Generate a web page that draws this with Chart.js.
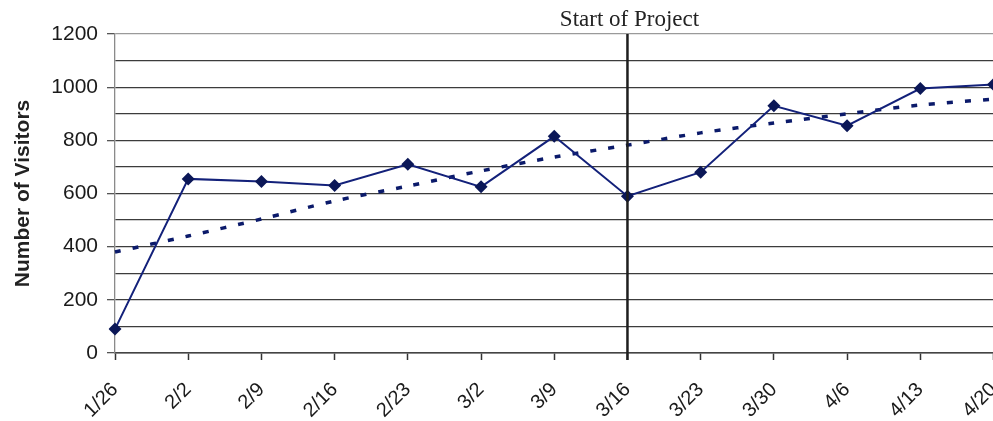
<!DOCTYPE html>
<html>
<head>
<meta charset="utf-8">
<script src="https://cdn.jsdelivr.net/npm/chart.js@4/dist/chart.umd.min.js"></script>
<style>
  html, body { margin: 0; padding: 0; background: #ffffff; overflow: hidden; }
  #wrap { width: 1000px; height: 421px; position: relative; }
</style>
</head>
<body>
<div id="wrap"><canvas id="chart"></canvas></div>
<script>
// Weekly visitor counts
const weeks = ['1/26', '2/2', '2/9', '2/16', '2/23', '3/2', '3/9', '3/16', '3/23', '3/30', '4/6', '4/13', '4/20'];
const visitors = [90, 655, 645, 630, 710, 625, 815, 590, 680, 930, 855, 995, 1010];
// Fitted trend through the weekly counts
const trend = [380, 440, 504, 572, 628, 685, 737, 782, 828, 865, 900, 933, 955];
// Week in which the project began
const projectStart = '3/16';
const projectLabel = 'Start of Project';
const yTickLabels = [0, 200, 400, 600, 800, 1000, 1200];

const NAVY = '#13217a';

// Vertical marker line plus its caption above the plot
const startMarker = {
  id: 'startMarker',
  afterDatasetsDraw(chart) {
    const { ctx, chartArea, scales } = chart;
    const x = scales.x.getPixelForValue(weeks.indexOf(projectStart));
    ctx.save();
    ctx.strokeStyle = '#1e1e1e';
    ctx.lineWidth = 2.5;
    ctx.beginPath();
    ctx.moveTo(x, chartArea.top);
    ctx.lineTo(x, chartArea.bottom + 7);
    ctx.stroke();
    ctx.fillStyle = '#222222';
    ctx.font = '23px "Liberation Serif", "Times New Roman", serif';
    ctx.textAlign = 'center';
    ctx.textBaseline = 'alphabetic';
    ctx.fillText(projectLabel, x + 2, 26);
    ctx.restore();
  }
};

new Chart(document.getElementById('chart'), {
  type: 'line',
  data: {
    labels: weeks,
    datasets: [
      {
        label: 'Visitors',
        data: visitors,
        borderColor: NAVY,
        backgroundColor: '#0b1757',
        borderWidth: 2,
        pointStyle: 'rectRot',
        pointRadius: 6.5,
        pointBorderWidth: 0,
        tension: 0,
        order: 1
      },
      {
        label: 'Trend',
        data: trend,
        borderColor: '#0b1a6a',
        borderWidth: 3.5,
        borderDash: [6, 12],
        pointRadius: 0,
        tension: 0.3,
        order: 2
      }
    ]
  },
  options: {
    responsive: true,
    maintainAspectRatio: false,
    animation: false,
    layout: { padding: { left: 0, right: 0, top: 34, bottom: 0 } },
    plugins: {
      legend: { display: false },
      tooltip: { enabled: false }
    },
    scales: {
      x: {
        offset: false,
        grid: {
          drawOnChartArea: false,
          drawTicks: true,
          tickLength: 7,
          tickColor: '#333333',
          tickWidth: 1.5
        },
        border: { color: '#444444', width: 1.5 },
        ticks: {
          maxRotation: 45,
          minRotation: 45,
          padding: 18,
          autoSkip: false,
          color: '#1a1a1a',
          font: { family: '"Liberation Sans", Arial, sans-serif', size: 20 }
        },
        afterFit(scale) {
          scale.height = 68;
          scale.paddingLeft = 0;
          scale.paddingRight = 0;
        }
      },
      y: {
        min: 0,
        max: 1200,
        grid: {
          color: (ctx) => ctx.tick && ctx.tick.value === 1200 ? '#9a9a9a' : '#3c3c3c',
          lineWidth: 1.3,
          tickLength: 8,
          tickColor: (ctx) => ctx.tick && yTickLabels.includes(ctx.tick.value) ? '#555555' : 'rgba(0,0,0,0)'
        },
        border: { color: '#8a8a8a', width: 1.3 },
        ticks: {
          stepSize: 100,
          autoSkip: false,
          padding: 9,
          color: '#1a1a1a',
          font: { family: '"Liberation Sans", Arial, sans-serif', size: 21 },
          callback: (v) => yTickLabels.includes(v) ? String(v) : ''
        },
        title: {
          display: true,
          text: 'Number of Visitors',
          color: '#222222',
          font: { family: '"Liberation Sans", Arial, sans-serif', size: 21, weight: 'bold' },
          padding: { top: 11, bottom: 0 }
        },
        afterFit(scale) {
          scale.width = 115;
          scale.paddingTop = 0;
          scale.paddingBottom = 0;
        }
      }
    }
  },
  plugins: [startMarker]
});
</script>
</body>
</html>
